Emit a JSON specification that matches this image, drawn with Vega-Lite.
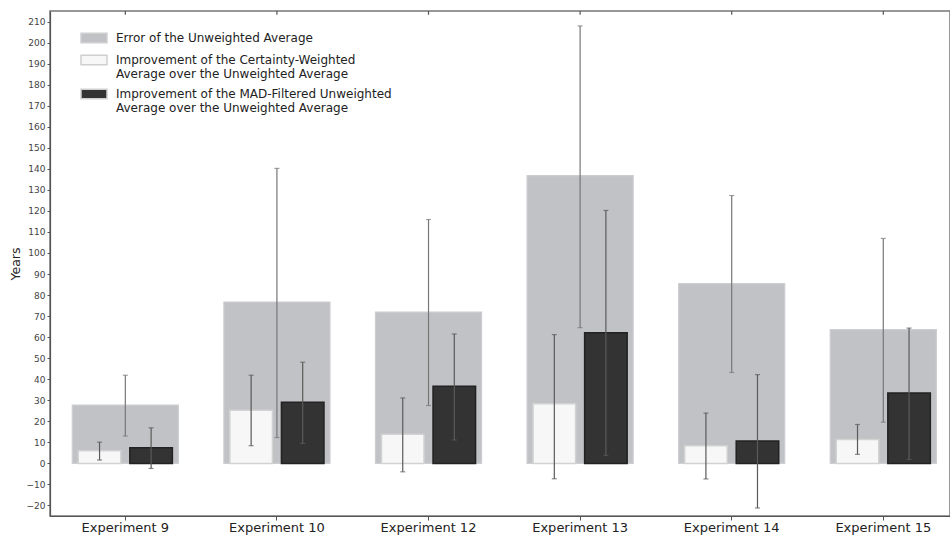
{
  "$schema": "https://vega.github.io/schema/vega-lite/v6.json",
  "width": 900,
  "height": 505,
  "autosize": {"type": "none"},
  "padding": {"left": 50, "top": 11, "right": 0, "bottom": 22},
  "config": {
    "font": "DejaVu Sans",
    "view": {"stroke": "#777777", "strokeWidth": 1.5},
    "axis": {"domainColor": "#555555", "tickColor": "#555555", "labelColor": "#333333", "grid": false},
    "axisY": {"tickCount": 24, "labelOverlap": false, "titleFontSize": 12.5, "titleFontWeight": "normal", "titleColor": "#222222", "titlePadding": 4, "labelFontSize": 9, "labelColor": "#444444", "tickSize": 3, "labelPadding": 2, "domainWidth": 1.2}
  },
  "datasets": {
    "gray": [
      {"exp": "Experiment 9", "series": "Error of the Unweighted Average", "value": 27.7, "lo": 13.0, "hi": 41.9},
      {"exp": "Experiment 10", "series": "Error of the Unweighted Average", "value": 76.7, "lo": 12.3, "hi": 140.2},
      {"exp": "Experiment 12", "series": "Error of the Unweighted Average", "value": 71.9, "lo": 27.5, "hi": 115.9},
      {"exp": "Experiment 13", "series": "Error of the Unweighted Average", "value": 136.8, "lo": 64.5, "hi": 207.9},
      {"exp": "Experiment 14", "series": "Error of the Unweighted Average", "value": 85.4, "lo": 43.2, "hi": 127.3},
      {"exp": "Experiment 15", "series": "Error of the Unweighted Average", "value": 63.6, "lo": 19.6, "hi": 106.9}
    ],
    "imp": [
      {"exp": "Experiment 9", "series": "Improvement of the Certainty-Weighted Average over the Unweighted Average", "value": 6.0, "lo": 1.6, "hi": 10.1},
      {"exp": "Experiment 9", "series": "Improvement of the MAD-Filtered Unweighted Average over the Unweighted Average", "value": 7.4, "lo": -2.4, "hi": 16.9},
      {"exp": "Experiment 10", "series": "Improvement of the Certainty-Weighted Average over the Unweighted Average", "value": 25.3, "lo": 8.4, "hi": 41.9},
      {"exp": "Experiment 10", "series": "Improvement of the MAD-Filtered Unweighted Average over the Unweighted Average", "value": 29.1, "lo": 9.5, "hi": 48.1},
      {"exp": "Experiment 12", "series": "Improvement of the Certainty-Weighted Average over the Unweighted Average", "value": 13.8, "lo": -4.0, "hi": 31.1},
      {"exp": "Experiment 12", "series": "Improvement of the MAD-Filtered Unweighted Average over the Unweighted Average", "value": 36.7, "lo": 11.1, "hi": 61.5},
      {"exp": "Experiment 13", "series": "Improvement of the Certainty-Weighted Average over the Unweighted Average", "value": 28.4, "lo": -7.3, "hi": 61.2},
      {"exp": "Experiment 13", "series": "Improvement of the MAD-Filtered Unweighted Average over the Unweighted Average", "value": 62.1, "lo": 3.8, "hi": 120.2},
      {"exp": "Experiment 14", "series": "Improvement of the Certainty-Weighted Average over the Unweighted Average", "value": 8.4, "lo": -7.4, "hi": 23.9},
      {"exp": "Experiment 14", "series": "Improvement of the MAD-Filtered Unweighted Average over the Unweighted Average", "value": 10.7, "lo": -21.2, "hi": 42.2},
      {"exp": "Experiment 15", "series": "Improvement of the Certainty-Weighted Average over the Unweighted Average", "value": 11.4, "lo": 4.3, "hi": 18.5},
      {"exp": "Experiment 15", "series": "Improvement of the MAD-Filtered Unweighted Average over the Unweighted Average", "value": 33.5, "lo": 1.9, "hi": 64.3}
    ]
  },
  "layer": [
    {
      "data": {"name": "gray"},
      "mark": {"type": "bar", "strokeWidth": 1.2},
      "encoding": {
        "x": {
          "field": "exp", "type": "nominal", "sort": null,
          "scale": {"paddingInner": 0.3, "paddingOuter": 0.1185, "align": 0.62},
          "axis": {"title": null, "labelAngle": 0, "labelFontSize": 13, "labelColor": "#222222", "tickSize": 4, "tickColor": "#555555", "labelPadding": 1, "domainWidth": 1.2}
        },
        "y": {
          "field": "value", "type": "quantitative",
          "scale": {"domain": [-25, 215], "nice": false, "zero": false},
          "axis": {"title": "Years", "tickCount": 24, "labelOverlap": false, "values": [-20,-10,0,10,20,30,40,50,60,70,80,90,100,110,120,130,140,150,160,170,180,190,200,210]}
        },
        "color": {
          "field": "series", "type": "nominal",
          "scale": {
            "domain": ["Error of the Unweighted Average", "Improvement of the Certainty-Weighted Average over the Unweighted Average", "Improvement of the MAD-Filtered Unweighted Average over the Unweighted Average"],
            "range": ["#c1c2c5", "#f7f7f7", "#333333"]
          },
          "legend": {
            "title": null,
            "orient": "none",
            "legendX": 30,
            "legendY": 13,
            "symbolType": "M-1,-0.36L1,-0.36L1,0.36L-1,0.36Z",
            "symbolSize": 676,
            "symbolStrokeWidth": 1.5,
            "symbolStrokeColor": "#cfcfd2",
            "labelFontSize": 12,
            "labelColor": "#222222",
            "labelOffset": 8,
            "labelLimit": 400,
            "rowPadding": 0,
            "labelExpr": "indexof(datum.label,'Certainty')>=0 ? ['Improvement of the Certainty-Weighted','Average over the Unweighted Average'] : indexof(datum.label,'MAD')>=0 ? ['Improvement of the MAD-Filtered Unweighted','Average over the Unweighted Average'] : datum.label"
          }
        },
        "stroke": {"value": "#cdced1"}
      }
    },
    {
      "data": {"name": "imp"},
      "mark": {"type": "bar", "strokeWidth": 1.5},
      "encoding": {
        "x": {"field": "exp", "type": "nominal", "sort": null},
        "xOffset": {"field": "series", "type": "nominal", "scale": {"domain": ["Improvement of the Certainty-Weighted Average over the Unweighted Average", "Improvement of the MAD-Filtered Unweighted Average over the Unweighted Average"], "paddingInner": 0.175, "paddingOuter": 0.1165}},
        "y": {"field": "value", "type": "quantitative"},
        "fill": {
          "field": "series", "type": "nominal", "legend": null,
          "scale": {"domain": ["Improvement of the Certainty-Weighted Average over the Unweighted Average", "Improvement of the MAD-Filtered Unweighted Average over the Unweighted Average"], "range": ["#f7f7f7", "#333333"]}
        },
        "stroke": {
          "field": "series", "type": "nominal", "legend": null,
          "scale": {"domain": ["Improvement of the Certainty-Weighted Average over the Unweighted Average", "Improvement of the MAD-Filtered Unweighted Average over the Unweighted Average"], "range": ["#d2d2d2", "#222222"]}
        }
      }
    },
    {
      "data": {"name": "gray"},
      "mark": {"type": "rule", "color": "#777777", "strokeWidth": 1.2},
      "encoding": {
        "x": {"field": "exp", "type": "nominal", "sort": null},
        "y": {"field": "lo", "type": "quantitative"},
        "y2": {"field": "hi"}
      }
    },
    {
      "data": {"name": "gray"},
      "mark": {"type": "tick", "color": "#777777", "thickness": 1.2, "size": 5},
      "encoding": {
        "x": {"field": "exp", "type": "nominal", "sort": null},
        "y": {"field": "lo", "type": "quantitative"}
      }
    },
    {
      "data": {"name": "gray"},
      "mark": {"type": "tick", "color": "#777777", "thickness": 1.2, "size": 5},
      "encoding": {
        "x": {"field": "exp", "type": "nominal", "sort": null},
        "y": {"field": "hi", "type": "quantitative"}
      }
    },
    {
      "data": {"name": "imp"},
      "mark": {"type": "rule", "color": "#5a5a5a", "strokeWidth": 1.2},
      "encoding": {
        "x": {"field": "exp", "type": "nominal", "sort": null},
        "xOffset": {"field": "series", "type": "nominal"},
        "y": {"field": "lo", "type": "quantitative"},
        "y2": {"field": "hi"}
      }
    },
    {
      "data": {"name": "imp"},
      "mark": {"type": "tick", "color": "#5a5a5a", "thickness": 1.2, "size": 5},
      "encoding": {
        "x": {"field": "exp", "type": "nominal", "sort": null},
        "xOffset": {"field": "series", "type": "nominal"},
        "y": {"field": "lo", "type": "quantitative"}
      }
    },
    {
      "data": {"name": "imp"},
      "mark": {"type": "tick", "color": "#5a5a5a", "thickness": 1.2, "size": 5},
      "encoding": {
        "x": {"field": "exp", "type": "nominal", "sort": null},
        "xOffset": {"field": "series", "type": "nominal"},
        "y": {"field": "hi", "type": "quantitative"}
      }
    },
    {
      "data": {"name": "gray"},
      "mark": {"type": "rule", "color": "#555555", "strokeWidth": 1.2},
      "encoding": {
        "x": {"field": "exp", "type": "nominal", "sort": null},
        "y": {"datum": 215},
        "y2": {"datum": 213.2}
      }
    },
    {
      "mark": {"type": "rule", "color": "#555555", "strokeWidth": 1.2},
      "encoding": {"y": {"datum": 0}}
    }
  ]
}
